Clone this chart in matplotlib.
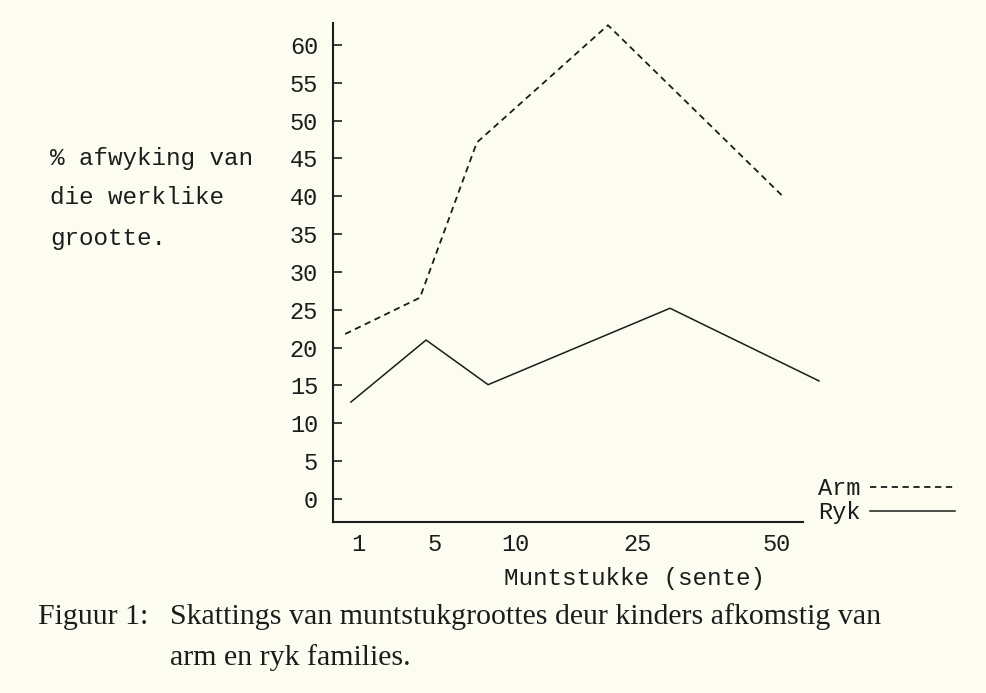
#!/usr/bin/env python
# -*- coding: utf-8 -*-
"""
Figuur 1: skattings van muntstukgroottes (arm vs ryk)
"""

import matplotlib
matplotlib.use('Agg')
import matplotlib.pyplot as plt

# x positions are on a 0-100 scale along the drawn axis
coin_labels = ['1', '5', '10', '25', '50']
coin_pos = [5.3, 21.5, 38.9, 64.7, 94.3]

arm_x = [2.6, 18.5, 30.6, 58.5, 95.7]
arm_y = [21.8, 26.6, 47.1, 62.6, 40.0]

ryk_x = [3.8, 19.8, 33.0, 71.7, 103.4]
ryk_y = [12.8, 21.0, 15.1, 25.2, 15.6]

yticks = list(range(0, 65, 5))

paper = '#fdfcf1'
ink = '#1c1c1c'
mono = 'Liberation Mono'
serif = 'Liberation Serif'


def run():
    fig = plt.figure(figsize=(9.87, 6.93), dpi=100, facecolor=paper)
    ax = fig.add_axes([0.3374, 0.2468, 0.5238, 0.7201])
    ax.set_facecolor(paper)

    ax.plot(arm_x, arm_y, color=ink, lw=1.3, linestyle=(0, (3.5, 2.5)), label='Arm')
    ax.plot(ryk_x, ryk_y, color=ink, lw=1.1, linestyle='-', label='Ryk')

    ax.set_xlim(0, 110)
    ax.set_ylim(-3.04, 62.9)

    for s in ['top', 'right']:
        ax.spines[s].set_visible(False)
    ax.spines['left'].set_linewidth(1.5)
    ax.spines['bottom'].set_linewidth(1.5)
    ax.spines['left'].set_color(ink)
    ax.spines['bottom'].set_color(ink)
    ax.spines['bottom'].set_bounds(0, 100)

    ax.set_yticks(yticks)
    ax.set_yticklabels([str(v) for v in yticks], family=mono, fontsize=17, color=ink)
    ax.tick_params(axis='y', direction='in', length=6.5, width=1.2, pad=10.8, colors=ink)

    ax.set_xticks(coin_pos)
    ax.set_xticklabels(coin_labels, family=mono, fontsize=17, color=ink)
    ax.tick_params(axis='x', length=0, pad=8, colors=ink)

    ax.set_xlabel('Muntstukke (sente)', family=mono, fontsize=17.5, color=ink)
    ax.xaxis.set_label_coords((634 - 333) / 517.0, -0.114)
    ax.xaxis.label.set_va('center')

    # y label as three typed lines to the left
    ylab = ['% afwyking van', 'die werklike', 'grootte.']
    ylab_y = [158, 197, 238]
    for t, yy in zip(ylab, ylab_y):
        fig.text(50 / 987.0, 1 - yy / 693.0, t, family=mono, fontsize=17.5,
                 color=ink, va='center', ha='left')

    leg = ax.legend(loc='lower left', bbox_to_anchor=(818 / 987.0, 1 - 524 / 693.0),
                    bbox_transform=fig.transFigure, frameon=False, markerfirst=False,
                    handlelength=3.6, handletextpad=0.4, labelspacing=0.05,
                    borderpad=0, borderaxespad=0,
                    prop={'family': mono, 'size': 17})
    for txt in leg.get_texts():
        txt.set_color(ink)

    # caption
    cap = 21.5
    fig.text(38 / 987.0, 1 - 617 / 693.0, 'Figuur 1:', family=serif, fontsize=cap,
             color=ink, va='center', ha='left')
    fig.text(170 / 987.0, 1 - 617 / 693.0,
             'Skattings van muntstukgroottes deur kinders afkomstig van',
             family=serif, fontsize=cap, color=ink, va='center', ha='left')
    fig.text(170 / 987.0, 1 - 658 / 693.0, 'arm en ryk families.', family=serif,
             fontsize=cap, color=ink, va='center', ha='left')

    fig.savefig('out.png', dpi=100, facecolor=paper)


if __name__ == '__main__':
    run()
